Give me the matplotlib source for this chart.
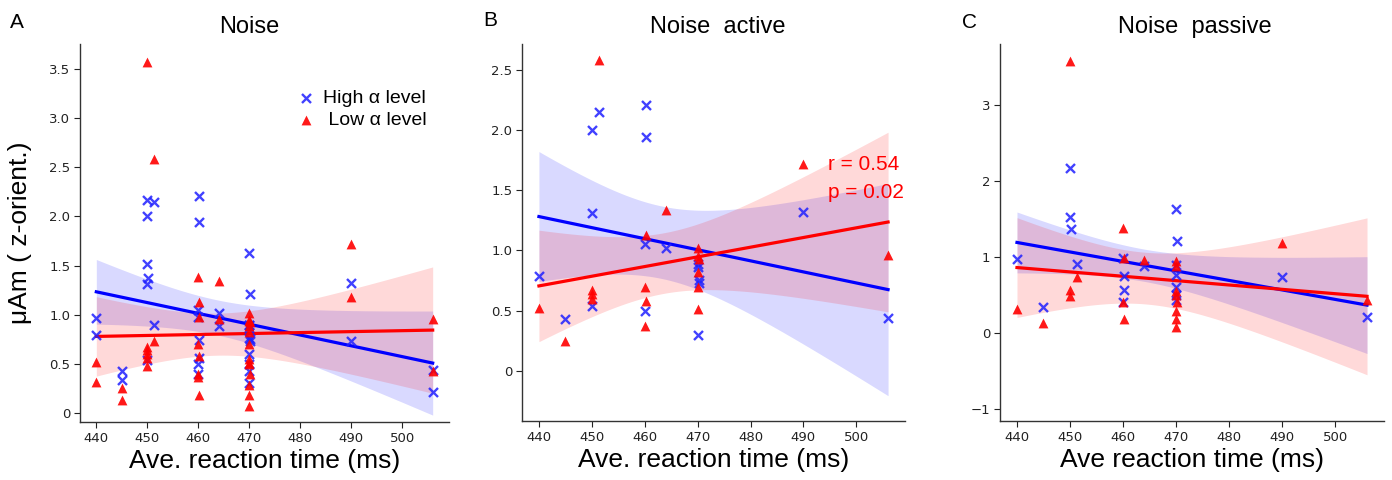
import numpy as np
import matplotlib
matplotlib.use("Agg")
import matplotlib.pyplot as plt

# Noise active (panel B)
act_high_rt = [440, 445, 450, 450, 450, 451.3, 460.2, 460.2, 460, 460, 464, 470, 470, 470.2, 470.2, 470, 490, 506]
act_high = [0.79, 0.43, 2.00, 1.31, 0.54, 2.15, 2.21, 1.94, 1.05, 0.50, 1.02, 0.89, 0.86, 0.75, 0.73, 0.30, 1.32, 0.44]
act_low_rt = [440, 445, 450, 450, 450, 451.3, 460.2, 460, 460.2, 460, 464, 470, 470, 470.2, 470, 470, 470, 490, 506]
act_low = [0.52, 0.25, 0.67, 0.64, 0.60, 2.58, 1.13, 0.70, 0.58, 0.37, 1.34, 1.02, 0.95, 0.93, 0.82, 0.70, 0.51, 1.72, 0.96]

# Noise passive (panel C)
pas_high_rt = [440, 445, 450, 450, 450.1, 451.4, 460, 460.1, 460.1, 460, 464, 470, 470.2, 470, 470, 470, 470, 470, 490, 506]
pas_high = [0.97, 0.34, 2.17, 1.52, 1.37, 0.90, 0.98, 0.74, 0.56, 0.40, 0.88, 1.63, 1.21, 0.89, 0.76, 0.60, 0.50, 0.43, 0.73, 0.21]
pas_low_rt = [440, 445, 450, 450, 450, 451.4, 460, 460.1, 460, 460.1, 464, 470, 470, 470, 470, 470.2, 470, 470, 470, 490, 506]
pas_low = [0.31, 0.13, 3.57, 0.56, 0.48, 0.73, 1.38, 0.98, 0.40, 0.18, 0.96, 0.94, 0.88, 0.55, 0.50, 0.40, 0.28, 0.18, 0.07, 1.18, 0.43]

# Noise (panel A) pools both conditions
all_high_rt = act_high_rt + pas_high_rt
all_high = act_high + pas_high
all_low_rt = act_low_rt + pas_low_rt
all_low = act_low + pas_low

BLUE = "#0000ff"
RED = "#ff0000"


def regline(ax, x, y, color):
    x = np.asarray(x, float)
    y = np.asarray(y, float)
    n = len(x)
    b, a = np.polyfit(x, y, 1)
    grid = np.linspace(x.min(), x.max(), 100)
    fit = a + b * grid
    res = y - (a + b * x)
    s2 = np.sum(res ** 2) / (n - 2)
    sxx = np.sum((x - x.mean()) ** 2)
    se = np.sqrt(s2 * (1.0 / n + (grid - x.mean()) ** 2 / sxx))
    ax.fill_between(grid, fit - 2.05 * se, fit + 2.05 * se, color=color, alpha=0.15, lw=0)
    ax.plot(grid, fit, color=color, lw=2.3)


def panel(ax, hx, hy, lx, ly, ylim, yticks, ylabels):
    regline(ax, hx, hy, BLUE)
    regline(ax, lx, ly, RED)
    ax.scatter(hx, hy, marker="x", s=42, color="#2020ff", alpha=0.85, lw=1.7, label="High α level", zorder=3)
    ax.scatter(lx, ly, marker="^", s=50, color=RED, alpha=0.9, lw=0, label=" Low α level", zorder=3)
    ax.set_xlim(436.8, 509.2)
    ax.set_ylim(*ylim)
    ax.set_xticks(range(440, 501, 10))
    ax.set_yticks(yticks)
    ax.set_yticklabels(ylabels)
    for s in ["top", "right"]:
        ax.spines[s].set_visible(False)
    for s in ["left", "bottom"]:
        ax.spines[s].set_color("#333333")
        ax.spines[s].set_linewidth(1.0)
    ax.tick_params(labelsize=9.5, length=4, width=0.8, colors="#222222", pad=3)


fig = plt.figure(figsize=(13.92, 4.8), dpi=100)
axA = fig.add_axes([80 / 1392, 58 / 480, 369 / 1392, 378 / 480])
axB = fig.add_axes([522 / 1392, 59 / 480, 383 / 1392, 377 / 480])
axC = fig.add_axes([1000 / 1392, 59 / 480, 384 / 1392, 377 / 480])

panel(axA, all_high_rt, all_high, all_low_rt, all_low, (-0.092, 3.754),
      [0, 0.5, 1, 1.5, 2, 2.5, 3, 3.5], ["0", "0.5", "1.0", "1.5", "2.0", "2.5", "3.0", "3.5"])
panel(axB, act_high_rt, act_high, act_low_rt, act_low, (-0.418, 2.716),
      [0, 0.5, 1, 1.5, 2, 2.5], ["0", "0.5", "1.0", "1.5", "2.0", "2.5"])
panel(axC, pas_high_rt, pas_high, pas_low_rt, pas_low, (-1.163, 3.80),
      [-1, 0, 1, 2, 3], ["\u22121", "0", "1", "2", "3"])

sans = "Liberation Sans"
axA.legend(loc="upper right", bbox_to_anchor=(0.96, 0.9), frameon=False,
           prop={"family": sans, "size": 14}, handletextpad=0.35, labelspacing=0.2,
           borderaxespad=0, handlelength=1.0)

axB.text(0.80, 0.68, "r = 0.54", transform=axB.transAxes, color=RED, fontsize=15,
         family=sans, va="center")
axB.text(0.80, 0.605, "p = 0.02", transform=axB.transAxes, color=RED, fontsize=15,
         family=sans, va="center")

axA.set_ylabel("μAm ( z-orient.)", fontsize=19, family=sans, labelpad=12)
axA.set_xlabel("Ave. reaction time (ms)", fontsize=19, family=sans, labelpad=3)
axB.set_xlabel("Ave. reaction time (ms)", fontsize=19, family=sans, labelpad=3)
axC.set_xlabel("Ave reaction time (ms)", fontsize=19, family=sans, labelpad=3)

fig.text(249 / 1392, 1 - 27 / 480, "Noise", ha="center", va="center", fontsize=17, family=sans)
fig.text(718 / 1392, 1 - 27 / 480, "Noise  active", ha="center", va="center", fontsize=17, family=sans)
fig.text(1195 / 1392, 1 - 27 / 480, "Noise  passive", ha="center", va="center", fontsize=17, family=sans)
fig.text(10 / 1392, 1 - 22 / 480, "A", ha="left", va="center", fontsize=15, family=sans)
fig.text(483 / 1392, 1 - 20 / 480, "B", ha="left", va="center", fontsize=15, family=sans)
fig.text(962 / 1392, 1 - 22 / 480, "C", ha="left", va="center", fontsize=15, family=sans)

fig.savefig("out.png", dpi=100)
